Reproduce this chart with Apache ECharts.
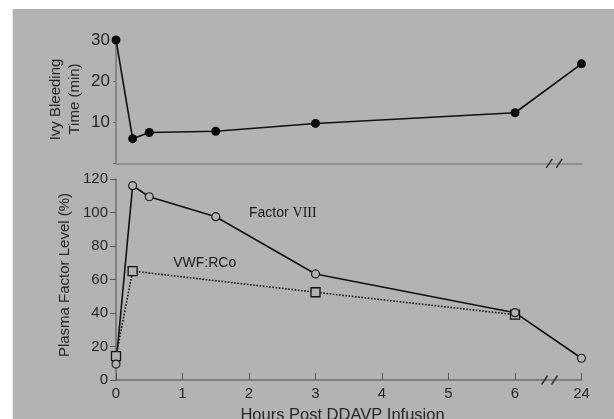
<!DOCTYPE html>
<html><head><meta charset="utf-8">
<script src="https://cdn.jsdelivr.net/npm/echarts@6/dist/echarts.min.js"></script>
<style>html,body{margin:0;padding:0;background:#fff}#c{width:614px;height:419px}</style>
</head><body><div id="c"></div>
<script>
// ---- data ----
const bleedHours = [0, 0.25, 0.5, 1.5, 3, 6, 24];
const bleedTime  = [30, 6, 7.5, 7.8, 9.7, 12.3, 24.2];
const f8Hours    = [0, 0.25, 0.5, 1.5, 3, 6, 24];
const f8Level    = [9.5, 116, 109.4, 97.5, 63.3, 40.2, 13];
const vwfHours   = [0, 0.25, 3, 6];
const vwfLevel   = [14.3, 65, 52.4, 39];
const xTickLabels = ['0', '1', '2', '3', '4', '5', '6', '24'];
const topYTickLabels = ['10', '20', '30'];
const botYTickLabels = ['0', '20', '40', '60', '80', '100', '120'];

// broken time axis: 6 -> 24 compressed into one unit
function pos(h) { return h <= 6 ? h : 6 + (h - 6) / 18; }
function pairs(xs, ys) { return xs.map((h, i) => [pos(h), ys[i]]); }

const BG = '#b3b3b3';
const TXT = '#262626';
const chart = echarts.init(document.getElementById('c'), null, {renderer: 'canvas'});

const option = {
  animation: false,
  backgroundColor: '#ffffff',
  textStyle: {fontFamily: 'Liberation Sans, Arial, sans-serif'},
  grid: [
    {left: 116, top: 40, width: 465.5, height: 123.3},
    {left: 116, top: 179, width: 465.5, height: 201}
  ],
  xAxis: [
    {gridIndex: 0, type: 'value', min: 0, max: 7, interval: 1,
     axisLine: {show: true, lineStyle: {color: '#858585', width: 1.5}},
     axisTick: {show: false}, axisLabel: {show: false}, splitLine: {show: false}},
    {gridIndex: 1, type: 'value', min: 0, max: 7, interval: 1,
     axisLine: {show: true, lineStyle: {color: '#6e6e6e', width: 1.5}},
     axisTick: {show: true, inside: true, length: 7, lineStyle: {color: '#555', width: 1}},
     axisLabel: {fontSize: 15, color: TXT, margin: 6,
       formatter: v => xTickLabels[Math.round(v)] || ''},
     splitLine: {show: false}}
  ],
  yAxis: [
    {gridIndex: 0, type: 'value', min: 0, max: 30, interval: 10,
     axisLine: {show: true, lineStyle: {color: '#777', width: 1.5}},
     axisTick: {show: true, length: 3, lineStyle: {color: '#777'}},
     axisLabel: {fontSize: 17, color: TXT, margin: 6,
       formatter: v => topYTickLabels[v / 10 - 1] || ''},
     splitLine: {show: false}},
    {gridIndex: 1, type: 'value', min: 0, max: 120, interval: 20,
     axisLine: {show: true, lineStyle: {color: '#6e6e6e', width: 1.5}},
     axisTick: {show: true, length: 6, lineStyle: {color: '#555'}},
     axisLabel: {fontSize: 15, color: TXT, margin: 8,
       formatter: v => botYTickLabels[v / 20] || ''},
     splitLine: {show: false}}
  ],
  series: [
    {name: 'Ivy Bleeding Time', type: 'line', xAxisIndex: 0, yAxisIndex: 0,
     data: pairs(bleedHours, bleedTime),
     symbol: 'circle', symbolSize: 9,
     itemStyle: {color: '#0a0a0a'},
     lineStyle: {color: '#111', width: 1.6}},
    {name: 'VWF:RCo', type: 'line', xAxisIndex: 1, yAxisIndex: 1,
     data: pairs(vwfHours, vwfLevel),
     symbol: 'rect', symbolSize: 9,
     itemStyle: {color: BG, borderColor: '#111', borderWidth: 1.3},
     lineStyle: {color: '#111', width: 1.6, type: 'dotted'}},
    {name: 'Factor VIII', type: 'line', xAxisIndex: 1, yAxisIndex: 1,
     data: pairs(f8Hours, f8Level),
     symbol: 'circle', symbolSize: 8,
     itemStyle: {color: BG, borderColor: '#222', borderWidth: 1.2},
     lineStyle: {color: '#111', width: 1.6}}
  ]
};
chart.setOption(option);

// ---- decorations (background, axis names, annotations, axis breaks) ----
const gTop = {gridIndex: 0}, gBot = {gridIndex: 1};
function px(g, x, y) { return chart.convertToPixel(g, [x, y]); }

function breakMarks(g, cx, yv) {
  const p = px(g, cx, yv);
  const els = [];
  [-5, 5].forEach(d => {
    els.push({type: 'line', z: 10,
      shape: {x1: p[0] + d - 3, y1: p[1] + 4.5, x2: p[0] + d + 3, y2: p[1] - 4.5},
      style: {stroke: '#333', lineWidth: 1.5}});
  });
  return els;
}

const f8Lab = px(gBot, 2.0, 99.5);
const vwfLab = px(gBot, 0.86, 70);

const graphic = [
  {type: 'rect', z: -10, silent: true,
   shape: {x: 12.7, y: 9, width: 614, height: 419}, style: {fill: BG}},
  {type: 'text', x: 56, y: 99.5, rotation: Math.PI / 2,
   style: {text: 'Ivy Bleeding', font: '15px "Liberation Sans", Arial, sans-serif',
     fill: TXT, align: 'center', verticalAlign: 'middle'}},
  {type: 'text', x: 75, y: 99, rotation: Math.PI / 2,
   style: {text: 'Time (min)', font: '15px "Liberation Sans", Arial, sans-serif',
     fill: TXT, align: 'center', verticalAlign: 'middle'}},
  {type: 'text', x: 65, y: 275, rotation: Math.PI / 2,
   style: {text: 'Plasma Factor Level (%)', font: '15px "Liberation Sans", Arial, sans-serif',
     fill: TXT, align: 'center', verticalAlign: 'middle'}},
  {type: 'text', x: 342.5, y: 415,
   style: {text: 'Hours Post DDAVP Infusion', font: '16.5px "Liberation Sans", Arial, sans-serif',
     fill: TXT, align: 'center', verticalAlign: 'middle'}},
  {type: 'text', x: f8Lab[0], y: f8Lab[1],
   style: {text: '{a|Factor }{b|VIII}', align: 'left', verticalAlign: 'middle',
     rich: {
       a: {fontFamily: 'Liberation Sans, Arial, sans-serif', fontSize: 14, fill: '#1a1a1a', color: '#1a1a1a'},
       b: {fontFamily: 'Liberation Serif, Times New Roman, serif', fontSize: 14, fill: '#1a1a1a', color: '#1a1a1a'}
     }}},
  {type: 'text', x: vwfLab[0], y: vwfLab[1],
   style: {text: 'VWF:RCo', font: '14px "Liberation Sans", Arial, sans-serif',
     fill: '#1a1a1a', align: 'left', verticalAlign: 'middle'}}
].concat(breakMarks(gTop, 6.59, 0), breakMarks(gBot, 6.52, 0));

chart.setOption({graphic: graphic});
</script>
</body></html>
